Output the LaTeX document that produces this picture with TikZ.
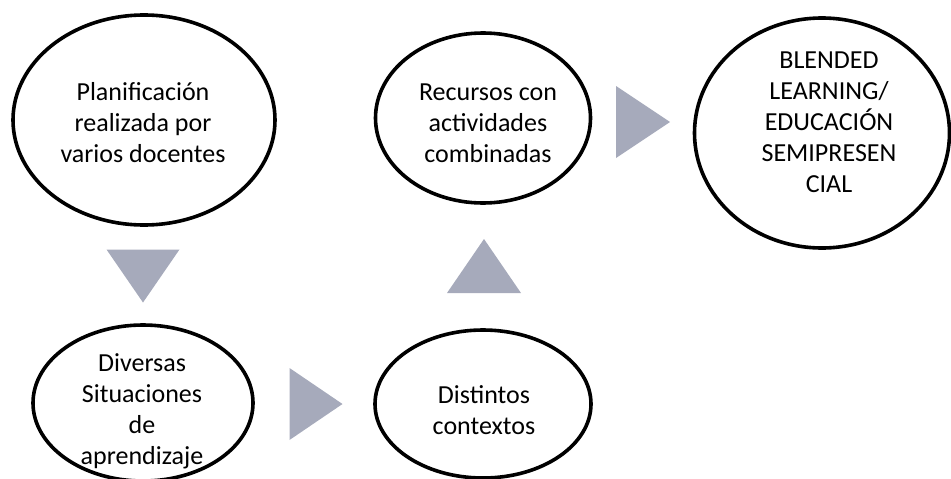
\documentclass[tikz,border=0pt]{standalone}
\usepackage{fontspec}
\setmainfont{Carlito}
\usetikzlibrary{shapes.geometric,calc}
\definecolor{arrowgrey}{RGB}{166,170,187}
\tikzset{
  oval/.style={ellipse, draw=black, line width=3.6pt, inner sep=0pt, fill=white},
  lbl/.style={align=center, font=\fontsize{26}{31}\selectfont, inner sep=0pt},
  tri/.style={fill=arrowgrey, draw=none}
}
\begin{document}
\begin{tikzpicture}[x=1pt,y=-1pt]
\useasboundingbox (0,0) rectangle (951,479);
% ovals
\node[oval, minimum width=262pt, minimum height=210pt] (e1) at (144,120) {};
\node[oval, minimum width=220pt, minimum height=156pt] (e2) at (143,403) {};
\node[oval, minimum width=216pt, minimum height=148pt] (e3) at (483,404) {};
\node[oval, minimum width=215pt, minimum height=170pt] (e4) at (483,118) {};
\node[oval, minimum width=255pt, minimum height=230pt] (e5) at (822,133) {};
% labels
\node[lbl] (t1) at (143,123) {Planificación\\realizada por\\varios docentes};
\node[lbl] (t2) at (142,411) {Diversas\\Situaciones\\de\\aprendizaje};
\node[lbl] (t3) at (484,410) {Distintos\\contextos};
\node[lbl] (t4) at (488,123) {Recursos con\\actividades\\combinadas};
\node[lbl] (t5) at (829,122) {BLENDED\\LEARNING/\\EDUCACIÓN\\SEMIPRESEN\\CIAL};
% triangular arrows
\coordinate (a1) at (143,276);
\coordinate (a2) at (316,404);
\coordinate (a3) at (484,266);
\coordinate (a4) at (643,122);
\fill[tri] ($(a1)+(-36.5,-26.5)$) -- ($(a1)+(36.5,-26.5)$) -- ($(a1)+(0,26.5)$) -- cycle;
\fill[tri] ($(a2)+(-26.5,-36)$) -- ($(a2)+(-26.5,36)$) -- ($(a2)+(26.5,0)$) -- cycle;
\fill[tri] ($(a3)+(-37,27)$) -- ($(a3)+(37,27)$) -- ($(a3)+(0,-27)$) -- cycle;
\fill[tri] ($(a4)+(-27,-36)$) -- ($(a4)+(-27,36)$) -- ($(a4)+(27,0)$) -- cycle;
\end{tikzpicture}
\end{document}
